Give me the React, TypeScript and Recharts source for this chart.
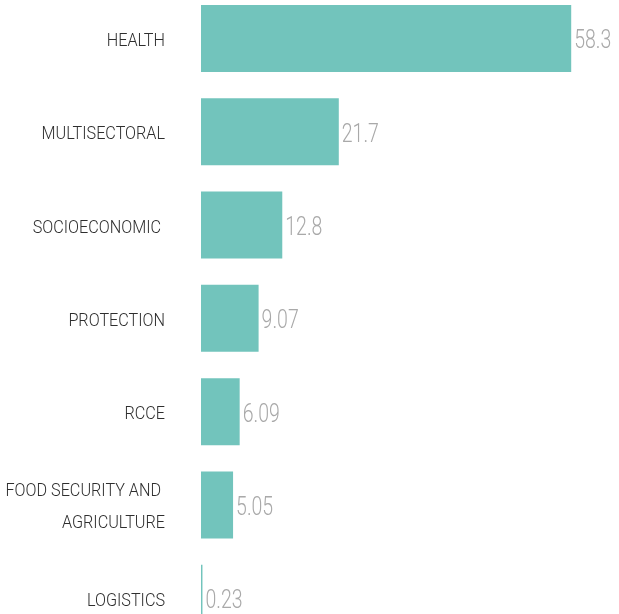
import { BarChart, Bar, XAxis, YAxis, LabelList } from "recharts";

// Funding by sector (values as printed next to each bar)
const SECTORS = [
  "HEALTH",
  "MULTISECTORAL",
  "SOCIOECONOMIC ",
  "PROTECTION",
  "RCCE",
  "FOOD SECURITY AND |AGRICULTURE",
  "LOGISTICS",
];
const AMOUNTS = [58.3, 21.7, 12.8, 9.07, 6.09, 5.05, 0.23];
const X_DOMAIN: [number, number] = [0, 60];

const BAR_COLOR = "#72c4bc";
const LABEL_COLOR = "#2e2e2e";
const VALUE_COLOR = "#a9a9a9";
const FONT = "Roboto, 'Liberation Sans', sans-serif";

const data = SECTORS.map((name, i) => ({ name, value: AMOUNTS[i] }));

function SectorTick(props: any) {
  const { x, y, payload } = props;
  const lines: string[] = String(payload.value).split("|");
  const lineGap = 32;
  const startY = y - ((lines.length - 1) * lineGap) / 2 + 1;
  return (
    <g>
      {lines.map((line, i) => (
        <text
          key={i}
          transform={`translate(${x - 28},${startY + i * lineGap}) scale(0.9,1)`}
          textAnchor="end"
          dominantBaseline="central"
          fontFamily={FONT}
          fontWeight={300}
          fontSize={18}
          fill={LABEL_COLOR}
          style={{ whiteSpace: "pre" }}
        >
          {line}
        </text>
      ))}
    </g>
  );
}

function ValueLabel(props: any) {
  const { x, y, width, height, value } = props;
  return (
    <text
      transform={`translate(${x + width + 3},${y + height / 2 + 1}) scale(0.78,1)`}
      textAnchor="start"
      dominantBaseline="central"
      fontFamily={FONT}
      fontWeight={300}
      fontSize={25}
      fill={VALUE_COLOR}
    >
      {value}
    </text>
  );
}

export default function App() {
  return (
    <div style={{ position: "fixed", top: -8, left: 0, width: 619, height: 653 }}>
      <BarChart
        width={619}
        height={653}
        data={data}
        layout="vertical"
        margin={{ top: 0, right: 37, bottom: 0, left: 0 }}
      >
        <XAxis type="number" domain={X_DOMAIN} hide />
        <YAxis
          type="category"
          dataKey="name"
          width={201}
          axisLine={false}
          tickLine={false}
          tick={<SectorTick />}
          interval={0}
        />
        <Bar dataKey="value" fill={BAR_COLOR} barSize={67} isAnimationActive={false}>
          <LabelList dataKey="value" content={<ValueLabel />} />
        </Bar>
      </BarChart>
    </div>
  );
}
